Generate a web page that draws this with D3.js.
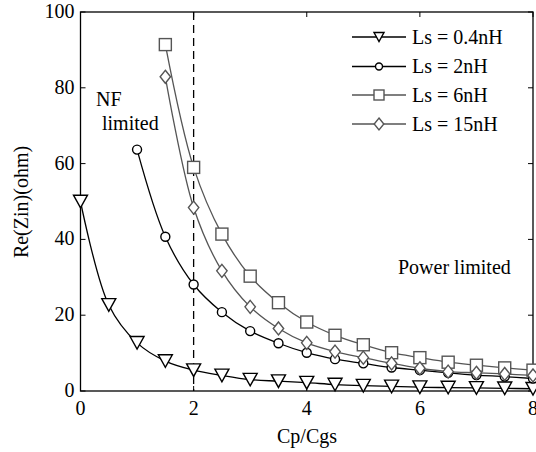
<!DOCTYPE html>
<html><head><meta charset="utf-8">
<script src="https://cdn.jsdelivr.net/npm/d3@7/dist/d3.min.js"></script>
<style>body{margin:0;background:#fff}svg{display:block}
svg text{font-family:"Liberation Serif",LiberationSerif,"DejaVu Serif",DejaVuSerif,"Noto Serif",Tinos,"Times New Roman",Times,serif !important}</style>
</head><body><svg id="c" width="536" height="452"></svg>
<script>
const xVals = [0,0.5,1,1.5,2,2.5,3,3.5,4,4.5,5,5.5,6,6.5,7,7.5,8];
const ls04 = [50,22.7,12.7,7.9,5.5,4.1,3.0,2.6,2.2,1.7,1.4,1.2,1.0,0.9,0.8,0.7,0.6];
const ls2  = [null,null,63.7,40.7,28.1,20.8,15.8,12.6,10.1,8.4,7.3,6.2,5.5,4.8,4.2,3.8,3.3];
const ls6  = [null,null,null,91.4,59.0,41.4,30.3,23.3,18.2,14.7,12.2,10.1,8.8,7.6,6.8,6.1,5.5];
const ls15 = [null,null,null,82.9,48.4,31.7,22.2,16.5,12.7,10.4,8.8,7.3,6.0,5.1,4.8,4.5,4.1];
const seriesNames = ["Ls = 0.4nH","Ls = 2nH","Ls = 6nH","Ls = 15nH"];
const seriesColors = ["#000","#000","#555","#555"];
const seriesMarkers = ["tri","circ","sq","dia"];
const xTicks = [0,2,4,6,8];
const yTicks = [0,20,40,60,80,100];

const svg = d3.select("#c");
const L=80.5, R=533, T=12, B=391;
const x = d3.scaleLinear().domain([0,8]).range([L,R]);
const y = d3.scaleLinear().domain([0,100]).range([B,T]);

svg.append("rect").attr("x",L).attr("y",T).attr("width",R-L).attr("height",B-T)
  .attr("fill","none").attr("stroke","#000").attr("stroke-width",1.3);

const fs = 20;
const g = svg.append("g");
xTicks.forEach(t=>{
  g.append("line").attr("x1",x(t)).attr("x2",x(t)).attr("y1",B).attr("y2",B-5).attr("stroke","#000");
  g.append("line").attr("x1",x(t)).attr("x2",x(t)).attr("y1",T).attr("y2",T+5).attr("stroke","#000");
  g.append("text").attr("x",x(t)).attr("y",B+24).attr("text-anchor","middle").attr("font-size",fs).text(t);
});
yTicks.forEach(t=>{
  g.append("line").attr("x1",L).attr("x2",L+5).attr("y1",y(t)).attr("y2",y(t)).attr("stroke","#000");
  g.append("line").attr("x1",R).attr("x2",R-5).attr("y1",y(t)).attr("y2",y(t)).attr("stroke","#000");
  g.append("text").attr("x",L-6).attr("y",y(t)+6).attr("text-anchor","end").attr("font-size",fs).text(t);
});
svg.append("text").attr("x",307).attr("y",443).attr("text-anchor","middle").attr("font-size",fs).text("Cp/Cgs");
svg.append("text").attr("transform","translate(28,202) rotate(-90)").attr("text-anchor","middle").attr("font-size",fs).text("Re(Zin)(ohm)");

svg.append("line").attr("x1",x(2)).attr("x2",x(2)).attr("y1",T).attr("y2",B)
  .attr("stroke","#000").attr("stroke-width",1.3).attr("stroke-dasharray","8,5");

function marker(sel, type, cx, cy, s, color){
  if(type==="tri"){
    const h=s*0.9, w=s;
    sel.append("path").attr("d",`M${cx-w/2},${cy-h/2}L${cx+w/2},${cy-h/2}L${cx},${cy+h/2}Z`)
      .attr("fill","#fff").attr("stroke",color).attr("stroke-width",1.4);
  } else if(type==="circ"){
    sel.append("circle").attr("cx",cx).attr("cy",cy).attr("r",s/2)
      .attr("fill","#fff").attr("stroke",color).attr("stroke-width",1.4);
  } else if(type==="sq"){
    sel.append("rect").attr("x",cx-s/2).attr("y",cy-s/2).attr("width",s).attr("height",s)
      .attr("fill","#fff").attr("stroke",color).attr("stroke-width",1.4);
  } else {
    sel.append("path").attr("d",`M${cx},${cy-s/2}L${cx+s*0.4},${cy}L${cx},${cy+s/2}L${cx-s*0.4},${cy}Z`)
      .attr("fill","#fff").attr("stroke",color).attr("stroke-width",1.4);
  }
}
const sizes = {tri:14, circ:9, sq:12, dia:13};

const allSeries = [ls04, ls2, ls6, ls15];
const line = d3.line().x(d=>x(d[0])).y(d=>y(d[1])).curve(d3.curveCatmullRom.alpha(0.5));
allSeries.forEach((vals,i)=>{
  const pts = xVals.map((xv,j)=>[xv,vals[j]]).filter(d=>d[1]!=null);
  svg.append("path").datum(pts).attr("d",line).attr("fill","none")
    .attr("stroke",seriesColors[i]).attr("stroke-width",1.3);
});
allSeries.forEach((vals,i)=>{
  const mg = svg.append("g");
  xVals.forEach((xv,j)=>{
    if(vals[j]==null) return;
    marker(mg, seriesMarkers[i], x(xv), y(vals[j]), sizes[seriesMarkers[i]], seriesColors[i]);
  });
});

const legY = [37,66.5,95,124];
seriesNames.forEach((n,i)=>{
  svg.append("line").attr("x1",352).attr("x2",406).attr("y1",legY[i]).attr("y2",legY[i])
    .attr("stroke",seriesColors[i]).attr("stroke-width",1.3);
  const ls = {tri:10, circ:7, sq:10, dia:12}[seriesMarkers[i]];
  marker(svg, seriesMarkers[i], 379, legY[i], ls, seriesColors[i]);
  svg.append("text").attr("x",412).attr("y",legY[i]+6.5).attr("font-size",fs).text(n);
});

svg.append("text").attr("x",96).attr("y",106).attr("font-size",fs).text("NF");
svg.append("text").attr("x",102).attr("y",130).attr("font-size",fs).text("limited");
svg.append("text").attr("x",398).attr("y",274).attr("font-size",fs).text("Power limited");
</script></body></html>
